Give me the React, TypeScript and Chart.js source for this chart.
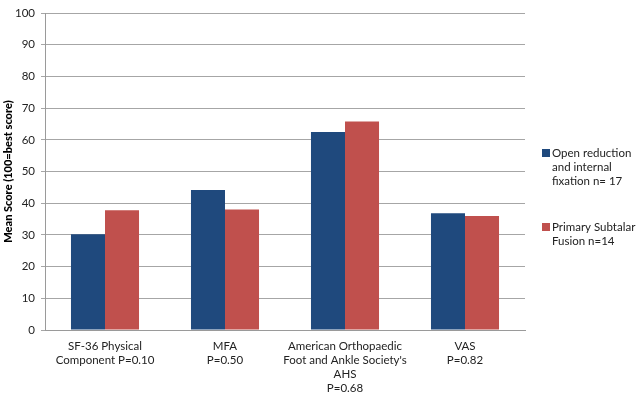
import React, { useEffect, useRef } from "react";
import { Chart, registerables } from "chart.js";

Chart.register(...registerables);

const categories: string[][] = [
  ["SF-36 Physical", "Component P=0.10"],
  ["MFA", "P=0.50"],
  ["American Orthopaedic", "Foot and Ankle Society's", "AHS", "P=0.68"],
  ["VAS", "P=0.82"],
];
const orifValues = [30.2, 44.2, 62.5, 36.8];
const fusionValues = [37.8, 38.0, 65.8, 36.0];
const seriesNames = ["Open reduction and internal fixation n= 17", "Primary Subtalar Fusion n=14"];
const legendLines: string[][] = [
  ["Open reduction", "and internal", "fixation n= 17"],
  ["Primary Subtalar", "Fusion n=14"],
];
const colors = ["#1F497D", "#C0504D"];
const yTitle = "Mean Score (100=best score)";
const FONT = "Lato, 'Open Sans', sans-serif";

const legendPlugin = {
  id: "sideLegend",
  afterDraw(chart: any) {
    const ctx = chart.ctx;
    ctx.save();
    ctx.font = `11.5px ${FONT}`;
    ctx.textBaseline = "middle";
    ctx.textAlign = "left";
    const starts = [153, 227];
    legendLines.forEach((lines, i) => {
      const y0 = starts[i];
      ctx.fillStyle = colors[i];
      ctx.fillRect(542, y0 - 4, 8, 8);
      ctx.fillStyle = "#222";
      lines.forEach((l, j) => ctx.fillText(l, 552, y0 + j * 14));
    });
    ctx.restore();
  },
};

export default function App() {
  const ref = useRef<HTMLCanvasElement | null>(null);
  useEffect(() => {
    document.body.style.margin = "0";
    const chart = new Chart(ref.current!, {
      type: "bar",
      data: {
        labels: categories as any,
        datasets: [
          { label: seriesNames[0], data: orifValues, backgroundColor: colors[0] },
          { label: seriesNames[1], data: fusionValues, backgroundColor: colors[1] },
        ],
      },
      options: {
        animation: false,
        responsive: false,
        maintainAspectRatio: false,
        layout: { padding: { top: 13, right: 115, left: 2, bottom: 0 } },
        plugins: { legend: { display: false }, tooltip: { enabled: false } },
        datasets: { bar: { categoryPercentage: 0.567, barPercentage: 1 } } as any,
        scales: {
          x: {
            grid: { display: false },
            border: { color: "#9a9a9a" },
            ticks: { color: "#222", font: { family: FONT, size: 11.5, lineHeight: 1.22 }, maxRotation: 0, autoSkip: false, padding: 1 },
            afterFit: (s: any) => { s.height = 66; },
          },
          y: {
            min: 0,
            max: 100,
            ticks: { stepSize: 10, color: "#222", font: { family: FONT, size: 11.5 }, padding: 6 },
            grid: { color: "#a6a6a6", drawTicks: true, tickLength: 4 },
            border: { color: "#9a9a9a" },
            title: { display: true, text: yTitle, color: "#000", font: { family: FONT, size: 11, weight: "900" }, padding: 0 },
            afterFit: (s: any) => { s.width = 43; },
          },
        },
      },
      plugins: [legendPlugin],
    });
    return () => chart.destroy();
  }, []);
  return (
    <div style={{ position: "fixed", left: 0, top: 0, width: 640, height: 396, background: "#fff" }}>
      <canvas ref={ref} width={640} height={396} style={{ width: 640, height: 396 }} />
    </div>
  );
}
